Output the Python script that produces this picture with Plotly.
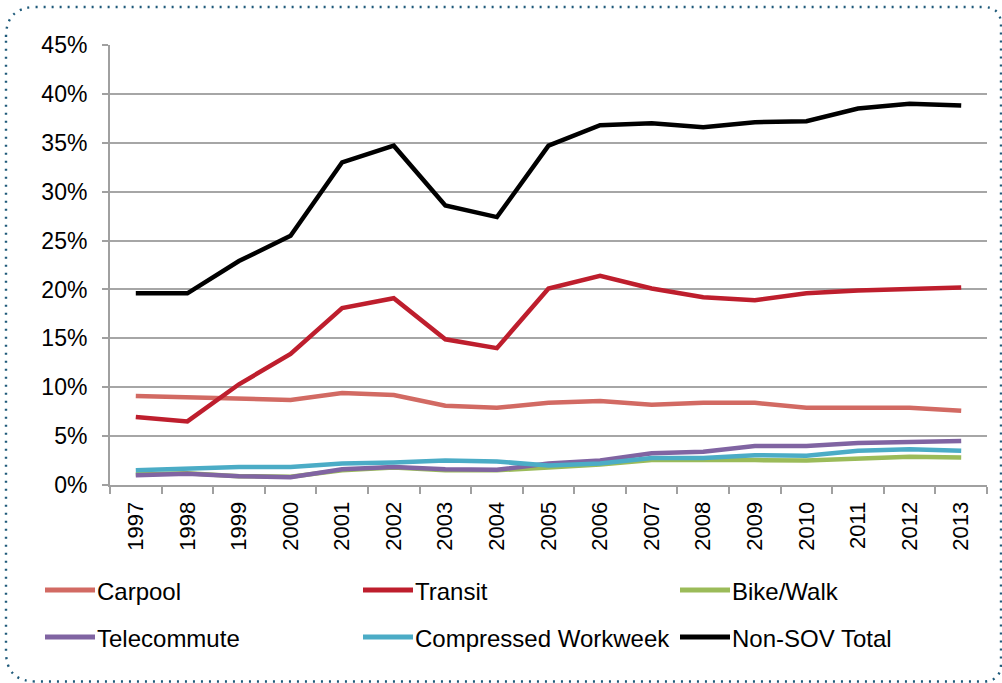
import plotly.graph_objects as go

years = [str(y) for y in range(1997, 2014)]

carpool = [9.1, 9.0, 8.9, 8.7, 9.4, 9.2, 8.1, 7.9, 8.4, 8.6, 8.2, 8.4, 8.4, 7.9, 7.9, 7.9, 7.6]
transit = [6.95, 6.5, 10.3, 13.4, 18.1, 19.1, 14.9, 14.0, 20.1, 21.4, 20.1, 19.2, 18.9, 19.6, 19.9, 20.0, 20.2]
bike_walk = [1.1, 1.2, 0.9, 0.85, 1.5, 1.8, 1.5, 1.5, 1.8, 2.1, 2.55, 2.6, 2.55, 2.5, 2.75, 2.9, 2.8]
telecommute = [1.0, 1.15, 0.9, 0.8, 1.6, 1.85, 1.6, 1.55, 2.2, 2.5, 3.25, 3.4, 4.0, 4.0, 4.3, 4.45, 4.5]
compressed = [1.5, 1.67, 1.85, 1.85, 2.2, 2.3, 2.5, 2.4, 2.0, 2.2, 2.75, 2.75, 3.05, 3.0, 3.5, 3.65, 3.5]
non_sov = [19.6, 19.6, 22.9, 25.5, 33.0, 34.7, 28.6, 27.4, 34.7, 36.8, 37.0, 36.6, 37.1, 37.2, 38.5, 39.0, 38.8]

names = ["Carpool", "Transit", "Bike/Walk", "Telecommute", "Compressed Workweek", "Non-SOV Total"]
series = [carpool, transit, bike_walk, telecommute, compressed, non_sov]
colors = ["#D26A63", "#BE1E2D", "#9BBB59", "#8064A2", "#4BACC6", "#000000"]
y_ticks = [0, 5, 10, 15, 20, 25, 30, 35, 40, 45]

W, H = 1002, 683
L, R, T, B = 110, 15, 45, 198
PW, PH = W - L - R, H - T - B

def px_x(x):
    return (x - L) / PW

def px_y(y):
    return (H - B - y) / PH

fig = go.Figure()
for name, vals, col in zip(names, series, colors):
    fig.add_trace(go.Scatter(x=years, y=vals, name=name, mode="lines",
                             line=dict(color=col, width=4.5), showlegend=False))

shapes = []
annotations = []
# manual legend
leg_cols = [45, 363, 680]
leg_rows = [590, 637]
for i, (name, col) in enumerate(zip(names, colors)):
    r, c = divmod(i, 3)
    x0 = leg_cols[c]
    yy = leg_rows[r]
    shapes.append(dict(type="line", xref="paper", yref="paper",
                       x0=px_x(x0), x1=px_x(x0 + 50), y0=px_y(yy), y1=px_y(yy),
                       line=dict(color=col, width=5)))
    annotations.append(dict(text=name, xref="paper", yref="paper",
                            x=px_x(x0 + 50), y=px_y(yy + 1), xanchor="left", yanchor="middle",
                            showarrow=False, font=dict(size=24, color="#000000")))

# dotted rounded border
x0b, y0b, x1b, y1b = 6, 7, 1001, 681.5
rl, rr = 30, 18
pts = (f"M {px_x(x0b)},{px_y(y0b + rl)} "
       f"Q {px_x(x0b)},{px_y(y0b)} {px_x(x0b + rl)},{px_y(y0b)} "
       f"L {px_x(x1b - rr)},{px_y(y0b)} "
       f"Q {px_x(x1b)},{px_y(y0b)} {px_x(x1b)},{px_y(y0b + rr)} "
       f"L {px_x(x1b)},{px_y(y1b - rr)} "
       f"Q {px_x(x1b)},{px_y(y1b)} {px_x(x1b - rr)},{px_y(y1b)} "
       f"L {px_x(x0b + rl)},{px_y(y1b)} "
       f"Q {px_x(x0b)},{px_y(y1b)} {px_x(x0b)},{px_y(y1b - rl)} Z")
shapes.append(dict(type="path", xref="paper", yref="paper", path=pts,
                   line=dict(color="#1F5A7A", width=2.4, dash="2px,6px")))

fig.update_layout(
    width=W, height=H,
    margin=dict(l=L, r=R, t=T, b=B),
    paper_bgcolor="white", plot_bgcolor="white",
    font=dict(family="Liberation Sans, Arial, sans-serif", size=22, color="#000000"),
    shapes=shapes, annotations=annotations,
    xaxis=dict(type="category", range=[-0.5, 16.5], tickangle=-90,
               showline=True, linecolor="#A0A0A0", linewidth=2,
               ticks="outside", tickson="boundaries", ticklen=7, tickcolor="#A0A0A0", tickwidth=2,
               ticklabelstandoff=6,
               showgrid=False, tickfont=dict(size=22), fixedrange=True),
    yaxis=dict(range=[0, 45], tickvals=y_ticks, ticktext=[f"{v}%" for v in y_ticks],
               showline=True, linecolor="#A0A0A0", linewidth=2,
               ticks="outside", ticklen=6, tickcolor="#A0A0A0", tickwidth=2,
               ticklabelstandoff=10,
               showgrid=True, gridcolor="#A6A6A6", gridwidth=2, zeroline=False,
               tickfont=dict(size=23), fixedrange=True),
)

fig.write_html("out.html", config={"displayModeBar": False},
               post_script="document.body.style.margin='0';")
